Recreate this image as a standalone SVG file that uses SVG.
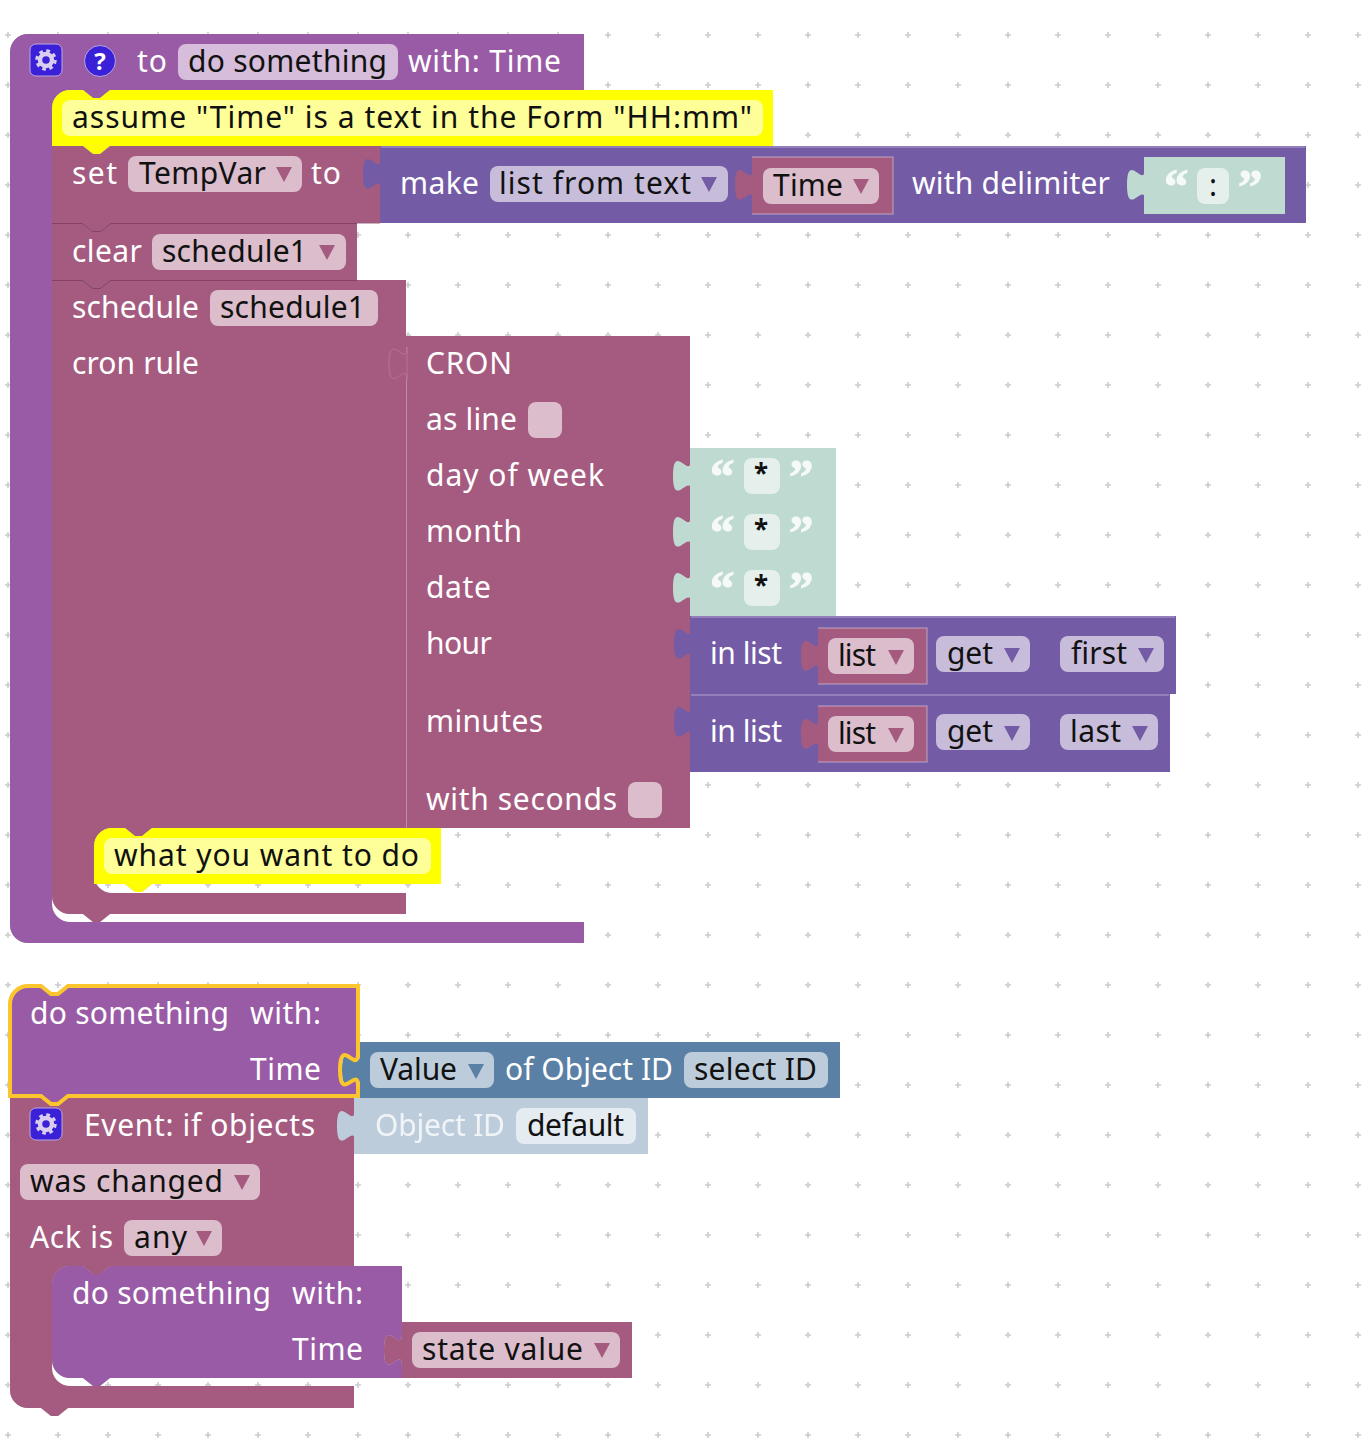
<svg xmlns="http://www.w3.org/2000/svg" width="1370" height="1452" viewBox="0 0 1370 1452">
<style>
text{font-family:"Noto Sans","DejaVu Sans",sans-serif;font-size:30px}
.l{fill:#fff}.d{fill:#111}
.blk{filter:drop-shadow(.7px .7px 0 rgba(0,0,0,.28))}
.pur{fill:#995ba5}.pin{fill:#a55b80}.vio{fill:#745ba5}.grn{fill:#bfdad0}.blu{fill:#5b80a5}.pal{fill:#bdccdb}.yel{fill:#ff0}
.fp{fill:#d6bddb}.fk{fill:#dbbdcc}.fv{fill:#c7bddb}.fg{fill:#e5f0ec}.fb{fill:#bdccdb}.fw{fill:#e4ebf1}.fy{fill:#ff9}
.ak{fill:#a55b80}.av{fill:#745ba5}.ab{fill:#5b80a5}
text.q{font-family:"Liberation Serif",serif;font-size:49px;font-weight:bold;fill:#fff;stroke:#fff;stroke-width:1;opacity:.85}
text.s{font-size:26px;font-weight:bold}
.hl{fill:none;stroke:rgba(255,255,255,.3);stroke-width:1.5}
.sep{fill:none;stroke:rgba(60,10,40,.3);stroke-width:1.2}
</style>
<defs>
<pattern id="grid" x="0" y="0" width="50" height="50" patternUnits="userSpaceOnUse">
<path d="M8 32V38M5 35H11" stroke="#ccc" stroke-width="1.6" fill="none"/>
</pattern>
<path id="tab" d="M1 0c0 22.4-18-17.900-18 16.800s18-5.600 18 16.800z"/>
<path id="arr" d="M0 0H16L8 15z"/>
<g id="gear"><rect x="-16" y="-16" width="32" height="32" rx="6" fill="#3a20d6" stroke="#b9a6e0" stroke-width="1"/><circle r="6" fill="none" stroke="#d9cdf0" stroke-width="4.500"/><circle r="9" fill="none" stroke="#d9cdf0" stroke-width="3.500" stroke-dasharray="3.600 3.470"/></g>
</defs>
<rect width="1370" height="1452" fill="#fff"/>
<rect width="1370" height="1452" fill="url(#grid)"/>
<g id="connectors"/>

<g id="proc-def">
<path class="pur blk" d="M10 52a18 18 0 0 1 18-18H584V90H110l-10 8h-7l-10-8H70a18 18 0 0 0-18 18V904a18 18 0 0 0 18 18H584V943H28a18 18 0 0 1-18-18Z"/>
<use href="#gear" x="46" y="60"/>
<circle cx="100" cy="61" r="15.500" fill="#3a20d6" stroke="#b9a6e0"/>
<text x="100" y="70" text-anchor="middle" style="font-size:24px;font-weight:bold" class="l">?</text>
<text class="l" x="137" y="72" textLength="30">to</text>
<rect class="fp" x="178" y="44" width="220" height="36" rx="8"/>
<text class="d" x="188" y="72" textLength="199">do something</text>
<text class="l" x="408" y="72" textLength="153">with: Time</text>
</g>

<g id="comment1">
<path class="yel blk" d="M52 108a18 18 0 0 1 18-18H83l10 8h7l10-8H773V146H110l-10 8h-7l-10-8H52Z"/>
<rect class="fy" x="62" y="100" width="701" height="36" rx="8"/>
<text class="d" x="72" y="128" textLength="680">assume "Time" is a text in the Form "HH:mm"</text>
</g>

<g id="set-block">
<path class="pin" d="M52 146H83l10 8h7l10-8H380V223H110l-10 8h-7l-10-8H52Z"/>
<text class="l" x="72" y="184" textLength="45">set</text>
<rect class="fk" x="128" y="156" width="174" height="36" rx="8"/>
<text class="d" x="139" y="184" textLength="127">TempVar</text>
<use class="ak" href="#arr" x="276" y="167"/>
<text class="l" x="311" y="184" textLength="30">to</text>
</g>

<g id="clear-block">
<path class="pin" d="M52 223H83l10 8h7l10-8H357V280H110l-10 8h-7l-10-8H52Z"/>
<path class="sep" d="M52 223.500H83l10 8h7l10-8H380"/>
<text class="l" x="72" y="262" textLength="70">clear</text>
<rect class="fk" x="152" y="234" width="194" height="36" rx="8"/>
<text class="d" x="162" y="262" textLength="145">schedule1</text>
<use class="ak" href="#arr" x="319" y="245"/>
</g>

<g id="make-list">
<rect class="vio blk" x="380" y="146" width="926" height="77"/>
<use class="vio" href="#tab" x="380" y="157"/>
<path class="hl" d="M381 147H1305"/>
<text class="l" x="400" y="194" textLength="79">make</text>
<rect class="fv" x="490" y="166" width="238" height="36" rx="8"/>
<text class="d" x="499" y="194" textLength="192">list from text</text>
<use class="av" href="#arr" x="701" y="177"/>
<text class="l" x="912" y="194" textLength="198">with delimiter</text>
</g>

<g id="var-time">
<rect class="pin blk" x="752" y="157" width="141" height="57"/>
<use class="pin" href="#tab" x="752" y="168"/>
<path class="hl" d="M752 157H893V214H752"/>
<rect class="fk" x="763" y="168" width="116" height="36" rx="8"/>
<text class="d" x="773" y="196" textLength="70">Time</text>
<use class="ak" href="#arr" x="853" y="179"/>
</g>

<g id="text-delim">
<rect class="grn blk" x="1144" y="157" width="141" height="57"/>
<use class="grn" href="#tab" x="1144" y="168"/>
<text class="q" x="1164" y="203">“</text>
<rect class="fg" x="1197" y="168" width="32" height="36" rx="8"/>
<text class="d" x="1213" y="196" text-anchor="middle">:</text>
<text class="q" x="1238" y="203">”</text>
</g>

<g id="schedule-block">
<path class="pin blk" d="M52 280H83l10 8h7l10-8H406V828H152l-10 8h-7l-10-8H112a18 18 0 0 0-18 18V875a18 18 0 0 0 18 18H406V914H110l-10 8h-7l-10-8H70a18 18 0 0 1-18-18Z"/>
<path class="sep" d="M52 280.500H83l10 8h7l10-8H357"/>
<text class="l" x="72" y="318" textLength="127">schedule</text>
<rect class="fk" x="210" y="290" width="168" height="36" rx="8"/>
<text class="d" x="220" y="318" textLength="145">schedule1</text>
<text class="l" x="72" y="374" textLength="127">cron rule</text>
</g>

<g id="comment2">
<path class="yel blk" d="M94 846a18 18 0 0 1 18-18H125l10 8h7l10-8H441V884H152l-10 8h-7l-10-8H94Z"/>
<rect class="fy" x="104" y="838" width="327" height="36" rx="8"/>
<text class="d" x="114" y="866" textLength="305">what you want to do</text>
</g>

<g id="text-dow">
<rect class="grn blk" x="690" y="448" width="146" height="56"/>
<text class="q" x="710" y="493">“</text>
<rect class="fg" x="744" y="458" width="36" height="36" rx="8"/>
<text class="d s" x="761" y="483" text-anchor="middle">*</text>
<text class="q" x="789" y="493">”</text>
</g>
<g id="text-month">
<rect class="grn blk" x="690" y="504" width="146" height="56"/>
<text class="q" x="710" y="549">“</text>
<rect class="fg" x="744" y="514" width="36" height="36" rx="8"/>
<text class="d s" x="761" y="539" text-anchor="middle">*</text>
<text class="q" x="789" y="549">”</text>
</g>
<g id="text-date">
<rect class="grn blk" x="690" y="560" width="146" height="56"/>
<text class="q" x="710" y="605">“</text>
<rect class="fg" x="744" y="570" width="36" height="36" rx="8"/>
<text class="d s" x="761" y="595" text-anchor="middle">*</text>
<text class="q" x="789" y="605">”</text>
</g>

<g id="list-first">
<rect class="vio blk" x="690" y="616" width="486" height="78"/>
<path class="hl" d="M691 617H1175"/>
<text class="l" x="710" y="664" textLength="72">in list</text>
<rect class="pin blk" x="818" y="628" width="109" height="56"/>
<use class="pin" href="#tab" x="818" y="639"/>
<path class="hl" d="M818 628H927V684H818"/>
<rect class="fk" x="828" y="638" width="86" height="36" rx="8"/>
<text class="d" x="838" y="666" textLength="38">list</text>
<use class="ak" href="#arr" x="888" y="650"/>
<rect class="fv" x="936" y="636" width="94" height="36" rx="8"/>
<text class="d" x="947" y="664" textLength="46">get</text>
<use class="av" href="#arr" x="1004" y="648"/>
<rect class="fv" x="1060" y="636" width="104" height="36" rx="8"/>
<text class="d" x="1071" y="664" textLength="56">first</text>
<use class="av" href="#arr" x="1138" y="648"/>
</g>

<g id="list-last">
<rect class="vio blk" x="690" y="694" width="480" height="78"/>
<path class="hl" d="M691 695H1169"/>
<text class="l" x="710" y="742" textLength="72">in list</text>
<rect class="pin blk" x="818" y="706" width="109" height="56"/>
<use class="pin" href="#tab" x="818" y="717"/>
<path class="hl" d="M818 706H927V762H818"/>
<rect class="fk" x="828" y="716" width="86" height="36" rx="8"/>
<text class="d" x="838" y="744" textLength="38">list</text>
<use class="ak" href="#arr" x="888" y="728"/>
<rect class="fv" x="936" y="714" width="94" height="36" rx="8"/>
<text class="d" x="947" y="742" textLength="46">get</text>
<use class="av" href="#arr" x="1004" y="726"/>
<rect class="fv" x="1060" y="714" width="98" height="36" rx="8"/>
<text class="d" x="1070" y="742" textLength="51">last</text>
<use class="av" href="#arr" x="1132" y="726"/>
</g>

<g id="cron-block">
<rect class="pin blk" x="406" y="336" width="284" height="492"/>
<use class="pin" href="#tab" x="406" y="347" stroke="rgba(255,255,255,.15)"/>
<path d="M406.500 381V828" stroke="rgba(255,255,255,.3)" fill="none"/>
<text class="l" x="426" y="374" textLength="86">CRON</text>
<text class="l" x="426" y="430" textLength="91">as line</text>
<rect class="fk" x="528" y="402" width="34" height="36" rx="8"/>
<text class="l" x="426" y="486" textLength="178">day of week</text>
<text class="l" x="426" y="542" textLength="96">month</text>
<text class="l" x="426" y="598" textLength="65">date</text>
<text class="l" x="426" y="654" textLength="66">hour</text>
<text class="l" x="426" y="732" textLength="117">minutes</text>
<text class="l" x="426" y="810" textLength="191">with seconds</text>
<rect class="fk" x="628" y="782" width="34" height="36" rx="8"/>
<use class="grn" href="#tab" x="690" y="459"/>
<use class="grn" href="#tab" x="690" y="515"/>
<use class="grn" href="#tab" x="690" y="571"/>
<use class="vio" href="#tab" x="691" y="627"/>
<use class="vio" href="#tab" x="691" y="705"/>
</g>

<g id="event-block">
<path class="pin blk" d="M10 1098H354V1266H110l-10 8h-7l-10-8H70a18 18 0 0 0-18 18V1368a18 18 0 0 0 18 18H354V1408H68l-10 8h-7l-10-8H28a18 18 0 0 1-18-18Z"/>
<use href="#gear" x="46" y="1124"/>
<text class="l" x="84" y="1136" textLength="231">Event: if objects</text>
<rect class="fk" x="20" y="1164" width="240" height="36" rx="8"/>
<text class="d" x="30" y="1192" textLength="193">was changed</text>
<use class="ak" href="#arr" x="234" y="1175"/>
<text class="l" x="30" y="1248" textLength="83">Ack is</text>
<rect class="fk" x="124" y="1220" width="98" height="36" rx="8"/>
<text class="d" x="134" y="1248" textLength="53">any</text>
<use class="ak" href="#arr" x="196" y="1231"/>
</g>

<g id="object-id">
<rect class="pal blk" x="354" y="1098" width="294" height="56"/>
<use class="pal" href="#tab" x="354" y="1109"/>
<text class="l" x="375" y="1136" textLength="130" opacity=".8">Object ID</text>
<rect class="fw" x="516" y="1108" width="120" height="36" rx="8"/>
<text class="d" x="527" y="1136" textLength="97">default</text>
</g>

<g id="value-block">
<rect class="blu blk" x="360" y="1042" width="480" height="56"/>
<use class="blu" href="#tab" x="359" y="1053"/>
<rect class="fb" x="370" y="1052" width="124" height="36" rx="8"/>
<text class="d" x="380" y="1080" textLength="77">Value</text>
<use class="ab" href="#arr" x="468" y="1064"/>
<text class="l" x="505" y="1080" textLength="168">of Object ID</text>
<rect class="fb" x="684" y="1052" width="144" height="36" rx="8"/>
<text class="d" x="694" y="1080" textLength="123">select ID</text>
</g>

<g id="call-selected">
<path class="pur" stroke="#fbc52d" stroke-width="4" d="M10 1004a18 18 0 0 1 18-18H41l10 8h7l10-8H358V1053c0 22.400-18-17.900-18 16.800s18-5.600 18 16.800V1096H68l-10 8h-7l-10-8H10Z"/>
<text class="l" x="30" y="1024" textLength="199">do something</text>
<text class="l" x="250" y="1024" textLength="71">with:</text>
<text class="l" x="250" y="1080" textLength="71">Time</text>
</g>

<g id="state-value">
<rect class="pin blk" x="402" y="1322" width="230" height="56"/>
<use class="pin" href="#tab" x="401" y="1333"/>
<rect class="fk" x="412" y="1332" width="208" height="36" rx="8"/>
<text class="d" x="422" y="1360" textLength="161">state value</text>
<use class="ak" href="#arr" x="594" y="1343"/>
</g>

<g id="call-inner">
<path class="pur blk" d="M52 1284a18 18 0 0 1 18-18H83l10 8h7l10-8H402V1333c0 22.400-18-17.900-18 16.800s18-5.600 18 16.800V1378H110l-10 8h-7l-10-8H70a18 18 0 0 1-18-18Z"/>
<text class="l" x="72" y="1304" textLength="199">do something</text>
<text class="l" x="292" y="1304" textLength="71">with:</text>
<text class="l" x="292" y="1360" textLength="71">Time</text>
</g>
</svg>
